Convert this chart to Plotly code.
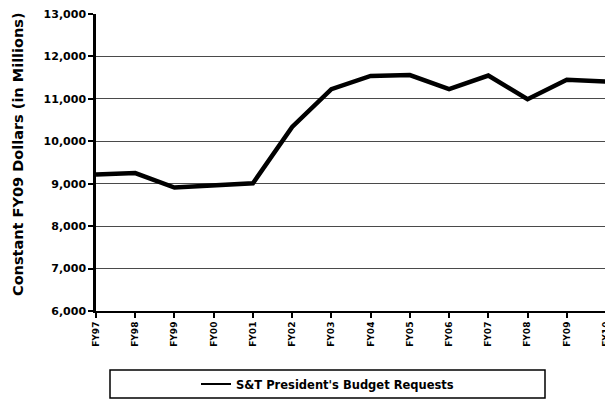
import plotly.graph_objects as go

# ---- data ----
categories = ["FY97", "FY98", "FY99", "FY00", "FY01", "FY02", "FY03",
              "FY04", "FY05", "FY06", "FY07", "FY08", "FY09", "FY10"]
budget_requests = [9220, 9250, 8910, 8960, 9010, 10340, 11230,
                   11540, 11560, 11230, 11550, 10990, 11450, 11410]
y_tick_values = [6000, 7000, 8000, 9000, 10000, 11000, 12000, 13000]
y_tick_labels = ["6,000", "7,000", "8,000", "9,000", "10,000", "11,000", "12,000", "13,000"]
series_name = "S&T President's Budget Requests"
y_title = "Constant FY09 Dollars (in Millions)"

FONT = "DejaVu Sans"
x_idx = list(range(len(categories)))

# the page body adds an 8px offset; size the figure to fill the rest of the window
OFF = 8
W, H = 613 - OFF, 402 - OFF
PL, PR, PT, PB = 96 - OFF, 606 - OFF, 14 - OFF, 311 - OFF   # plot area in figure px
PW, PH = PR - PL, PB - PT

fig = go.Figure()
fig.add_trace(go.Scatter(
    x=x_idx, y=budget_requests, mode="lines",
    line=dict(color="black", width=4.5),
    showlegend=False, name=series_name, cliponaxis=False,
))
# legend entry (thin sample line like the original)
fig.add_trace(go.Scatter(
    x=[None], y=[None], mode="lines",
    line=dict(color="black", width=2),
    name=series_name, showlegend=True,
))

fig.update_layout(
    width=W, height=H,
    margin=dict(l=PL, r=W - PR, t=PT, b=H - PB, autoexpand=False),
    paper_bgcolor="white", plot_bgcolor="white",
    font=dict(family=FONT, color="black", size=11, weight="bold"),
    showlegend=True,
    legend=dict(
        x=(327.5 - OFF) / W, y=1 - (384 - OFF) / H, xanchor="center", yanchor="middle",
        xref="container", yref="container",
        bgcolor="rgba(0,0,0,0)", borderwidth=0,
        font=dict(family=FONT, size=11.5, color="black", weight="bold"),
        itemwidth=30,
    ),
    shapes=[dict(
        type="rect", xref="paper", yref="paper",
        x0=(110 - 96) / PW, x1=(545 - 96) / PW,
        y0=(311 - 398) / PH, y1=(311 - 370) / PH,
        line=dict(color="black", width=1.5), fillcolor="rgba(0,0,0,0)",
        layer="below",
    )],
    annotations=[dict(
        text=y_title, textangle=-90,
        xref="paper", yref="paper",
        x=(18 - 96) / PW, y=(311 - 154) / PH, xanchor="center", yanchor="middle",
        showarrow=False,
        font=dict(family=FONT, size=14.5, color="black", weight="bold"),
    )],
)

fig.update_xaxes(
    range=[0, 13], automargin=False,
    tickmode="array", tickvals=x_idx, ticktext=categories,
    tickangle=-90, ticklabeloverflow="allow",
    ticks="outside", ticklen=5, tickwidth=1.5, tickcolor="black",
    showline=True, linecolor="black", linewidth=2,
    showgrid=False, zeroline=False,
    tickfont=dict(family=FONT, size=9, color="black", weight="bold"),
)
fig.update_yaxes(
    range=[6000, 13000], automargin=False,
    tickmode="array", tickvals=y_tick_values, ticktext=y_tick_labels,
    ticklabeloverflow="allow",
    ticks="outside", ticklen=5, tickwidth=1.5, tickcolor="black",
    showline=True, linecolor="black", linewidth=2.5,
    showgrid=True, gridcolor="#4a4a4a", gridwidth=1,
    zeroline=False,
    tickfont=dict(family=FONT, size=11, color="black", weight="bold"),
)

fig.write_html("out.html")
